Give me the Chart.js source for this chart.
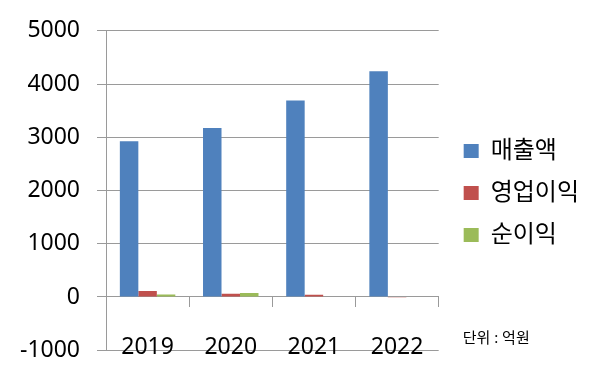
<!DOCTYPE html>
<html>
<head>
<meta charset="utf-8">
<script src="https://cdn.jsdelivr.net/npm/chart.js@4.4.1/dist/chart.umd.min.js"></script>
<style>
  html, body { margin: 0; padding: 0; background: #fff; }
  #wrap { width: 600px; height: 381px; position: relative; }
</style>
</head>
<body>
<div id="wrap"><canvas id="c" width="600" height="381"></canvas></div>
<script>
const categories = ['2019', '2020', '2021', '2022'];
const seriesNames = ['매출액', '영업이익', '순이익'];
const revenue = [2924, 3173, 3693, 4238];
const operatingProfit = [111, 61, 40, -15];
const netProfit = [48, 74, 0, 0];
const yTicks = [-1000, 0, 1000, 2000, 3000, 4000, 5000];
const unitLabel = '단위 : 억원';

const colors = ['#4f81bd', '#c0504d', '#9bbb59'];
const gridColor = '#9a9a9a';
const FONT = "'Noto Sans', 'Noto Sans CJK KR', sans-serif";
Chart.defaults.font.family = FONT;
Chart.defaults.color = '#000';

const legendShift = {
  id: 'legendShift',
  afterLayout(chart) {
    const lg = chart.legend;
    if (lg) { lg.left += 7; lg.right += 7; lg.top += 3; lg.bottom += 3; }
  }
};

const unitText = {
  id: 'unitText',
  afterDraw(chart) {
    const ctx = chart.ctx;
    const a = chart.chartArea;
    ctx.save();
    ctx.font = "15px " + FONT;
    ctx.fillStyle = '#000';
    ctx.textBaseline = 'middle';
    ctx.textAlign = 'left';
    ctx.fillText(unitLabel, a.right + 24, a.bottom - 11);
    ctx.restore();
  }
};

new Chart(document.getElementById('c'), {
  type: 'bar',
  data: {
    labels: categories,
    datasets: [
      { label: seriesNames[0], data: revenue, backgroundColor: colors[0] },
      { label: seriesNames[1], data: operatingProfit, backgroundColor: colors[1] },
      { label: seriesNames[2], data: netProfit, backgroundColor: colors[2] }
    ]
  },
  options: {
    responsive: false,
    animation: false,
    devicePixelRatio: 1,
    layout: { padding: { left: 0, top: 28, right: 18, bottom: 29 } },
    datasets: { bar: { categoryPercentage: 0.667, barPercentage: 1.0, borderWidth: 0 } },
    plugins: {
      legend: {
        position: 'right',
        labels: {
          boxWidth: 15,
          boxHeight: 14,
          padding: 18,
          font: { size: 24 },
          color: '#000'
        }
      },
      tooltip: { enabled: false },
      title: { display: false }
    },
    scales: {
      y: {
        min: yTicks[0],
        max: yTicks[yTicks.length - 1],
        afterBuildTicks(scale) { scale.ticks = yTicks.map(v => ({ value: v })); },
        afterFit(scale) { scale.width = 106; },
        ticks: { font: { size: 23 }, color: '#000', padding: 17, callback: (v) => String(v) },
        grid: { color: gridColor, tickLength: 9, lineWidth: 1 },
        border: { color: gridColor, width: 1 }
      },
      x: {
        position: { y: 0 },
        offset: true,
        ticks: { font: { size: 23 }, color: '#000', padding: 27, maxRotation: 0 },
        grid: { drawOnChartArea: false, offset: true, tickLength: 10, color: gridColor },
        border: { color: gridColor, width: 1 }
      }
    }
  },
  plugins: [legendShift, unitText]
});
</script>
</body>
</html>
